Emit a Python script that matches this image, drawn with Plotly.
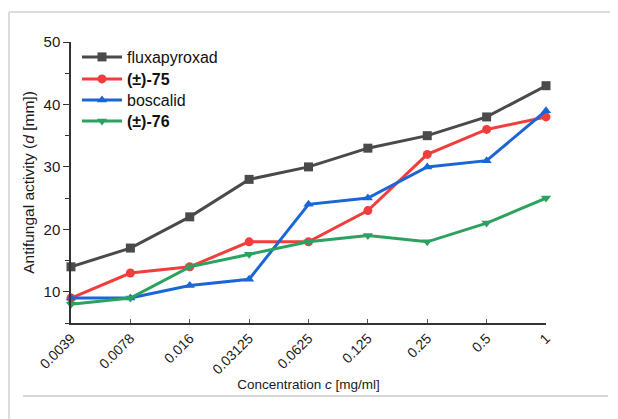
import plotly.graph_objects as go

categories = ["0.0039", "0.0078", "0.016", "0.03125", "0.0625", "0.125", "0.25", "0.5", "1"]
fluxapyroxad = [14, 17, 22, 28, 30, 33, 35, 38, 43]
rac75 = [9, 13, 14, 18, 18, 23, 32, 36, 38]
boscalid = [9, 9, 11, 12, 24, 25, 30, 31, 39]
rac76 = [8, 9, 14, 16, 18, 19, 18, 21, 25]

series = [
    ("fluxapyroxad", fluxapyroxad, "#4a4a4a", "square"),
    ("<b>(±)-75</b>", rac75, "#f23d3d", "circle"),
    ("boscalid", boscalid, "#1b66d6", "triangle-up"),
    ("<b>(±)-76</b>", rac76, "#2ba25f", "triangle-down"),
]

# page has an 8px body margin, so the figure origin sits at (8, 8) on screen
OFF = 8
W, H = 610, 411
L, R, T, B = 71 - OFF, 72, 42 - OFF, 96
pw, ph = W - L - R, H - T - B

def px(x):
    return (x - OFF - L) / pw

def py(y):
    return (H - B - (y - OFF)) / ph

legend_rows = [57, 79, 100, 121]
legend_ids = ["legend", "legend2", "legend3", "legend4"]

xs = list(range(len(categories)))
fig = go.Figure()
for (name, vals, col, sym), lid in zip(series, legend_ids):
    fig.add_trace(go.Scatter(
        x=xs, y=vals, name=name, mode="lines+markers",
        line=dict(color=col, width=3),
        marker=dict(symbol=sym, size=9, color=col),
        cliponaxis=False, legend=lid,
    ))

shapes = [
    dict(type="line", xref="paper", yref="paper", x0=px(9), x1=px(640), y0=py(12), y1=py(12),
         line=dict(color="#dcdcdc", width=2)),
    dict(type="line", xref="paper", yref="paper", x0=px(9), x1=px(9), y0=py(12), y1=py(440),
         line=dict(color="#dcdcdc", width=2)),
    dict(type="line", xref="paper", yref="paper", x0=px(23), x1=px(608), y0=py(396), y1=py(396),
         line=dict(color="#c8c8c8", width=1.5)),
]

legends = {}
for lid, row in zip(legend_ids, legend_rows):
    legends[lid] = dict(x=px(77), y=py(row), xanchor="left", yanchor="middle",
                        bgcolor="rgba(0,0,0,0)", font=dict(size=16, color="#111"),
                        borderwidth=0, itemwidth=40)

fig.update_layout(
    width=W, height=H,
    margin=dict(l=L, r=R, t=T, b=B, autoexpand=False),
    paper_bgcolor="white", plot_bgcolor="white",
    font=dict(family="Liberation Sans, Arial, sans-serif", size=16, color="#1a1a1a"),
    shapes=shapes,
    showlegend=True,
    **legends,
)
fig.update_xaxes(
    range=[0, 8], tickmode="array", tickvals=xs, ticktext=categories,
    tickangle=-45, ticks="inside", ticklen=4, tickcolor="#555",
    showline=True, linecolor="#333", linewidth=1.5, showgrid=False, zeroline=False,
    tickfont=dict(size=14), automargin=False,
    title=dict(text="Concentration <i>c</i> [mg/ml]", font=dict(size=13.5), standoff=2),
)
fig.update_yaxes(
    range=[5, 50], tickmode="linear", tick0=0, dtick=10,
    ticks="outside", ticklen=6, tickcolor="#333",
    minor=dict(dtick=5, tick0=0, ticks="outside", ticklen=4, tickcolor="#333"),
    showline=True, linecolor="#333", linewidth=1.5, showgrid=False, zeroline=False,
    tickfont=dict(size=15), automargin=False,
    title=dict(text="Antifungal activity (<i>d</i> [mm])", font=dict(size=15.5), standoff=5),
)

fig.write_html("out.html")
